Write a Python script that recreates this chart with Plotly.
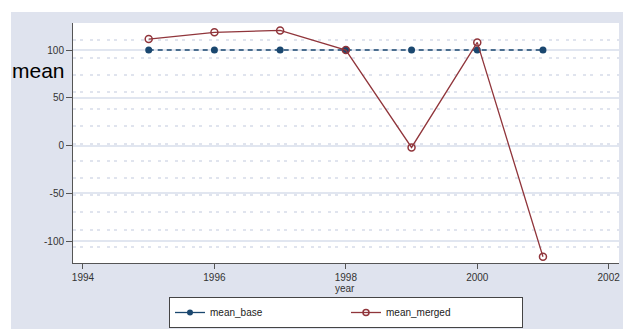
import plotly.graph_objects as go

years = [1995, 1996, 1997, 1998, 1999, 2000, 2001]
mean_base = [100, 100, 100, 100, 100, 100, 100]
mean_merged = [111.5, 118.5, 120.5, 100, -2, 108, -116.5]

x_ticks = [1994, 1996, 1998, 2000, 2002]
y_ticks = [-100, -50, 0, 50, 100]

NAVY = "#1A476F"
MAROON = "#90353B"
BG = "#DFE3EE"
FONT = "Liberation Sans, Arial, sans-serif"

fig = go.Figure()
fig.add_trace(go.Scatter(
    x=years, y=mean_base, name="mean_base", mode="lines+markers", showlegend=False,
    line=dict(color=NAVY, width=1.6, dash="5px,4px"),
    marker=dict(color=NAVY, size=7, symbol="circle"),
))
fig.add_trace(go.Scatter(
    x=years, y=mean_merged, name="mean_merged", mode="lines+markers", showlegend=False,
    line=dict(color=MAROON, width=1.3),
    marker=dict(color=MAROON, size=7, symbol="circle-open", line=dict(width=1.5, color=MAROON)),
))
# legend entries (solid key lines, as in the reference legend)
fig.add_trace(go.Scatter(
    x=[None], y=[None], name="mean_base", mode="lines+markers",
    line=dict(color=NAVY, width=1.3),
    marker=dict(color=NAVY, size=6, symbol="circle"),
))
fig.add_trace(go.Scatter(
    x=[None], y=[None], name="mean_merged", mode="lines+markers",
    line=dict(color=MAROON, width=1.3),
    marker=dict(color=MAROON, size=6, symbol="circle-open", line=dict(width=1.5, color=MAROON)),
))

L, R, T, B = 73, 4, 23, 66
W, H = 623, 329
pw, ph = W - L - R, H - T - B

def px(xp):
    return (xp - L) / pw

def py(yp):
    return (H - B - yp) / ph

shapes = [
    dict(type="rect", xref="paper", yref="paper", x0=px(0), x1=px(W), y0=py(12), y1=py(0),
         fillcolor="white", line_width=0, layer="below"),
    dict(type="rect", xref="paper", yref="paper", x0=px(0), x1=px(11), y0=py(H), y1=py(0),
         fillcolor="white", line_width=0, layer="below"),
]

fig.update_layout(
    width=W, height=H,
    margin=dict(l=L, r=R, t=T, b=B, autoexpand=False),
    paper_bgcolor=BG, plot_bgcolor="white",
    font=dict(family=FONT, size=10, color="#333333"),
    shapes=shapes,
    showlegend=True,
    legend=dict(
        orientation="h", x=0.5, xanchor="center", y=py(297), yanchor="top",
        bgcolor="white", bordercolor="#444444", borderwidth=1,
        font=dict(family=FONT, size=10, color="#222222"),
        entrywidth=131, entrywidthmode="pixels",
    ),
    annotations=[
        dict(text="mean", xref="paper", yref="paper", x=px(38), y=py(70),
             showarrow=False, font=dict(family=FONT, size=21, color="black"),
             xanchor="center", yanchor="middle"),
        dict(text="year", xref="paper", yref="paper", x=px(345), y=py(288),
             showarrow=False, font=dict(family=FONT, size=10, color="#333333"),
             xanchor="center", yanchor="middle"),
    ],
)

fig.update_xaxes(
    range=[1993.848, 2002.157], tickvals=x_ticks, ticktext=[str(v) for v in x_ticks],
    showgrid=False, zeroline=False,
    showline=True, linecolor="#555555", linewidth=1,
    ticks="outside", ticklen=5, tickcolor="#555555", tickwidth=1,
)
fig.update_yaxes(
    range=[-123.0, 128.3], tickvals=y_ticks, ticktext=[str(v) for v in y_ticks],
    showgrid=True, gridcolor="#E1E6F0", gridwidth=1.5,
    zeroline=False,
    showline=True, linecolor="#555555", linewidth=1,
    ticks="outside", ticklen=6, tickcolor="#555555", tickwidth=1,
    minor=dict(tick0=2, dtick=18, showgrid=True, gridcolor="#E0E4EE", gridwidth=2,
               griddash="3px,4px,3px,7px", ticks=""),
)

fig.write_html(
    "out.html",
    config={"displayModeBar": False},
    post_script="document.body.style.margin='0';document.body.style.overflow='hidden';",
)
